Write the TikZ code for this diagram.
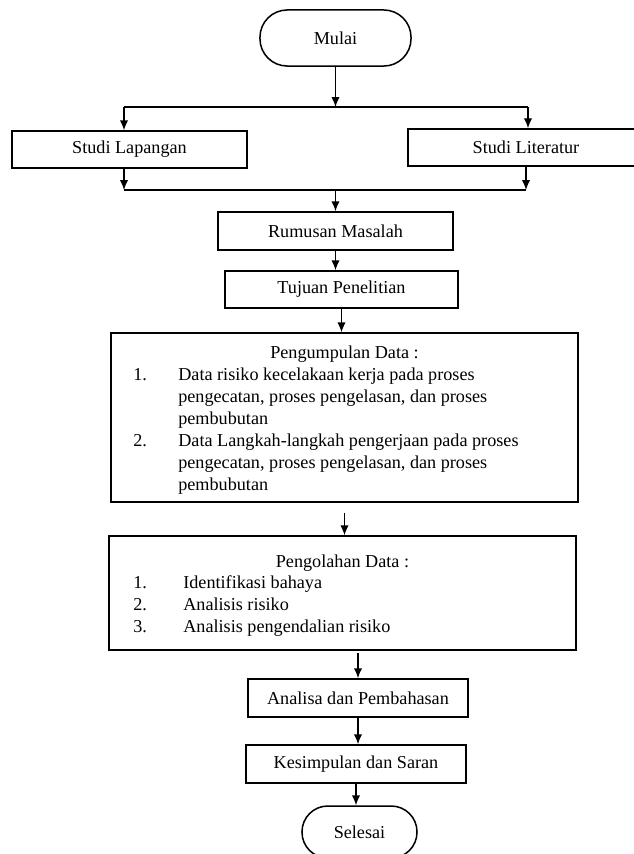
\documentclass[tikz,border=0pt]{standalone}
\usepackage{fontspec}
\setmainfont{Liberation Serif}
\usetikzlibrary{%
	arrows.meta,%
	calc%
}

\begin{document}
\begin{tikzpicture}[x=0.66pt,y=-0.66pt,
		font=\fontsize{12}{14}\selectfont,
		kotak/.style={draw,line width=1pt,inner sep=0pt,align=center},
		terminal/.style={kotak,rounded corners=#1},
		panah/.style={-{Latex[length=6.5pt,width=5.5pt]},line width=0.9pt},
		garis/.style={line width=0.9pt}
	]
	\useasboundingbox (0,0) rectangle (634,854);

	% Mulai
	\node[terminal=18pt,minimum width=99.7pt,minimum height=37pt] (mulai) at (335.5,38) {Mulai};

	% Studi
	\node[kotak,minimum width=155.1pt,minimum height=24.4pt] (lapangan) at (129.5,149.5) {Studi Lapangan};
	\node[kotak,minimum width=155.8pt,minimum height=24.4pt] (literatur) at (526,147.5) {Studi Literatur};

	% Cabang
	\coordinate (atasKiri) at (124,107);
	\coordinate (atasKanan) at (528,107);
	\coordinate (bawahKiri) at (124,190);
	\coordinate (bawahKanan) at (526,190);
	\draw[garis] (atasKiri) -- (atasKanan);
	\draw[garis] (bawahKiri) -- (bawahKanan);
	\draw[panah] (mulai.south) -- (mulai.south |- atasKiri);
	\draw[panah] (atasKiri) -- (atasKiri |- lapangan.north);
	\draw[panah] (atasKanan) -- (atasKanan |- literatur.north);
	\draw[panah] (atasKiri |- lapangan.south) -- (bawahKiri);
	\draw[panah] (bawahKanan |- literatur.south) -- (bawahKanan);

	% Rumusan dan tujuan
	\node[kotak,minimum width=155.1pt,minimum height=25.1pt] (rumusan) at (335.5,231) {Rumusan Masalah};
	\node[kotak,minimum width=153.8pt,minimum height=24.4pt] (tujuan) at (341.5,289.5) {Tujuan Penelitian};
	\draw[panah] (rumusan.north |- bawahKiri) -- (rumusan.north);
	\draw[panah] (rumusan.south) -- (rumusan.south |- tujuan.north);

	% Pengumpulan Data
	\node[kotak,minimum width=308.2pt,minimum height=111.5pt] (kumpul) at (344.5,417.5) {};
	\draw[panah] (tujuan.south) -- (tujuan.south |- kumpul.north);
	\node[anchor=base] (judulKumpul) at (344.5,358) {Pengumpulan Data :};
	\node[anchor=base west] (noKumpulA) at (128,380) {1.};
	\node[anchor=base west] (noKumpulB) at (128,446) {2.};
	\foreach \y/\teks in {380/{Data risiko kecelakaan kerja pada proses},
		402/{pengecatan, proses pengelasan, dan proses},
		424/{pembubutan},
		446/{Data Langkah-langkah pengerjaan pada proses},
		468/{pengecatan, proses pengelasan, dan proses},
		490/{pembubutan}}
		\node[anchor=base west,inner sep=0pt] (kumpul\y) at (178,\y) {\teks};

	% Pengolahan Data
	\node[kotak,minimum width=308.2pt,minimum height=75.2pt] (olah) at (342.5,593) {};
	\draw[panah,shorten <=7pt] (kumpul.south) -- (kumpul.south |- olah.north);
	\node[anchor=base] (judulOlah) at (342.5,567) {Pengolahan Data :};
	\foreach \y/\no/\teks in {588/1./{Identifikasi bahaya},
		610/2./{Analisis risiko},
		632/3./{Analisis pengendalian risiko}}
	{
		\node[anchor=base west] (noOlah\y) at (128,\y) {\no};
		\node[anchor=base west,inner sep=0pt] (olah\y) at (183,\y) {\teks};
	}

	% Analisa, kesimpulan, selesai
	\node[kotak,minimum width=145.2pt,minimum height=25.1pt] (analisa) at (358,698) {Analisa dan Pembahasan};
	\node[kotak,minimum width=145.2pt,minimum height=25.1pt] (simpul) at (356,764) {Kesimpulan dan Saran};
	\node[terminal=17pt,minimum width=75.9pt,minimum height=34.3pt] (selesai) at (359.5,832) {Selesai};
	\draw[panah,shorten <=1.5pt] (olah.south -| analisa.north) -- (analisa.north);
	\draw[panah] (analisa.south) -- (analisa.south |- simpul.north);
	\draw[panah] (simpul.south) -- (simpul.south |- selesai.north);
\end{tikzpicture}
\end{document}
